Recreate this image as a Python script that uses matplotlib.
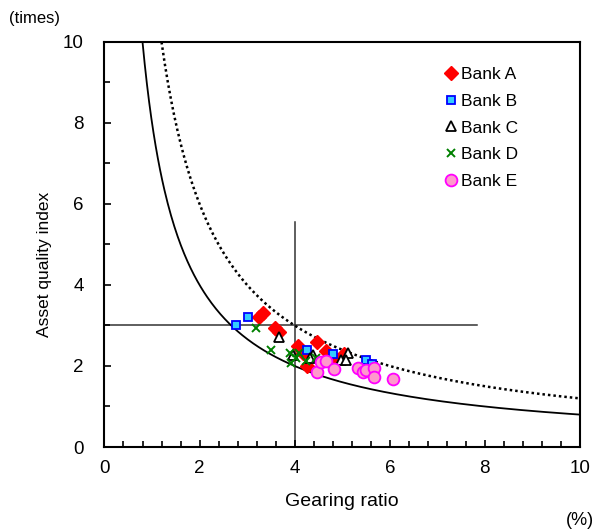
import numpy as np
import matplotlib
matplotlib.use("Agg")
import matplotlib.pyplot as plt
from matplotlib.ticker import MultipleLocator

plt.rcParams['font.family'] = ['Liberation Sans', 'DejaVu Sans']

# scatter data (gearing ratio %, asset quality index)
bank_a_x = [3.25, 3.33, 3.58, 3.68, 4.08, 4.46, 4.66, 4.25, 4.90, 5.03, 4.18]
bank_a_y = [3.20, 3.30, 2.93, 2.83, 2.50, 2.60, 2.38, 2.00, 2.15, 2.30, 2.32]
bank_b_x = [2.77, 3.02, 4.25, 4.80, 5.50, 5.62]
bank_b_y = [3.00, 3.22, 2.40, 2.30, 2.14, 2.06]
bank_c_x = [3.66, 3.97, 4.38, 4.97, 5.13, 5.08, 4.33]
bank_c_y = [2.72, 2.27, 2.27, 2.15, 2.33, 2.15, 2.20]
bank_d_x = [3.18, 3.50, 3.90, 4.03, 4.10, 3.93, 4.24, 4.45]
bank_d_y = [2.93, 2.40, 2.32, 2.20, 2.32, 2.08, 2.12, 2.20]
bank_e_x = [4.48, 4.55, 4.66, 4.83, 5.34, 5.43, 5.50, 5.67, 5.67, 6.07]
bank_e_y = [1.86, 2.09, 2.12, 1.92, 1.94, 1.86, 1.90, 1.94, 1.74, 1.68]

# iso-curves y = k / x
k_solid = 8
k_dotted = 12
# reference lines
x_ref, x_ref_top = 4, 5.55
y_ref, y_ref_right = 3, 7.83

fig = plt.figure(figsize=(5.96, 5.30), dpi=100)
ax = fig.add_axes([0.1753, 0.1566, 0.7978, 0.7642])

xs = np.linspace(k_solid / 10, 10, 400)
ax.plot(xs, k_solid / xs, color='black', linewidth=1.3, zorder=2)
xd = np.linspace(k_dotted / 10, 10, 400)
ax.plot(xd, k_dotted / xd, color='black', linewidth=1.8, linestyle=(0, (1, 1.2)), zorder=2)

ax.plot([x_ref, x_ref], [0, x_ref_top], color='#333333', linewidth=1.1, zorder=1)
ax.plot([0, y_ref_right], [y_ref, y_ref], color='#333333', linewidth=1.1, zorder=1)

ax.plot(bank_a_x, bank_a_y, 'D', color='red', markersize=7, markeredgecolor='red',
        linestyle='none', label='Bank A', zorder=3)
ax.plot(bank_b_x, bank_b_y, 's', markerfacecolor='#33CCFF', markeredgecolor='#0000FF',
        markeredgewidth=1.3, markersize=5.5, linestyle='none', label='Bank B', zorder=3)
ax.plot(bank_c_x, bank_c_y, '^', markerfacecolor='white', markeredgecolor='black',
        markeredgewidth=1.3, markersize=7.5, linestyle='none', label='Bank C', zorder=3)
ax.plot(bank_d_x, bank_d_y, 'x', color='#008000', markeredgewidth=1.4, markersize=6,
        linestyle='none', label='Bank D', zorder=3)
ax.plot(bank_e_x, bank_e_y, 'o', markerfacecolor='#FF99CC', markeredgecolor='#FF00FF',
        markeredgewidth=1.3, markersize=8.5, linestyle='none', label='Bank E', zorder=4)

ax.set_xlim(0, 10)
ax.set_ylim(0, 10)
ax.xaxis.set_major_locator(MultipleLocator(2))
ax.xaxis.set_minor_locator(MultipleLocator(0.4))
ax.yaxis.set_major_locator(MultipleLocator(2))
ax.yaxis.set_minor_locator(MultipleLocator(1))
ax.tick_params(which='both', direction='in', labelsize=13.5, width=1.2)
ax.tick_params(which='major', length=5)
ax.tick_params(which='minor', length=4)
ax.tick_params(axis='y', which='major', pad=15)
ax.tick_params(axis='x', which='major', pad=9)
for s in ax.spines.values():
    s.set_linewidth(1.5)

ax.set_xlabel('Gearing ratio', fontsize=14, labelpad=12)
ax.set_ylabel('Asset quality index', fontsize=12.5)
ax.yaxis.set_label_coords(-0.110, 0.45)
fig.text(0.015, 0.965, '(times)', fontsize=12, ha='left', va='center')
fig.text(0.997, 0.018, '(%)', fontsize=13, ha='right', va='center')

leg = ax.legend(loc='upper left', bbox_to_anchor=(0.70, 0.955), frameon=False,
                fontsize=12.5, handlelength=0.8, handletextpad=0.15, labelspacing=0.66,
                borderaxespad=0)

fig.savefig('out.png', dpi=100)
